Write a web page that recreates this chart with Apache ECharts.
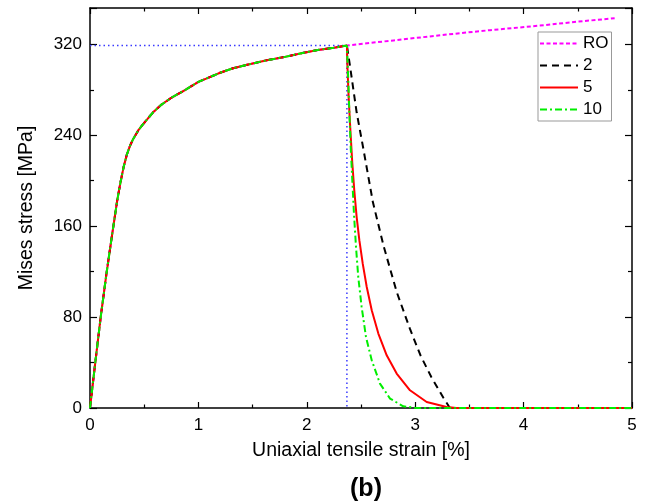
<!DOCTYPE html>
<html>
<head>
<meta charset="utf-8">
<script src="https://cdn.jsdelivr.net/npm/echarts@6/dist/echarts.min.js"></script>
<style>html,body{margin:0;padding:0;background:#fff;}#c{width:661px;height:502px;}</style>
</head>
<body>
<div id="c"></div>
<script>
// shared rising part (strain %, stress MPa)
const riseX = [0, 0.05, 0.10, 0.15, 0.20, 0.25, 0.28, 0.31, 0.34, 0.37, 0.40, 0.45, 0.50, 0.58, 0.66, 0.75, 0.88, 1.0, 1.1, 1.2, 1.32, 1.45, 1.63, 1.8, 1.94, 2.1, 2.25, 2.37];
const riseY = [0, 41, 81, 117, 150, 182, 198, 212, 223, 231, 237, 245, 251, 260, 267, 273, 280, 287, 291, 295, 299, 302, 306, 309, 312, 315, 317, 319];
// RO continuation
const roX = [2.8, 3.23, 3.69, 4.15, 4.5, 4.84];
const roY = [323.5, 328, 332.5, 336.5, 340, 343];
// softening branches
const d2X = [2.40, 2.46, 2.52, 2.61, 2.71, 2.83, 2.95, 3.05, 3.15, 3.26, 3.32, 5];
const d2Y = [300, 260, 229, 181, 142, 102, 70, 46, 27, 9, 0, 0];
const d5X = [2.374, 2.386, 2.402, 2.42, 2.438, 2.46, 2.485, 2.516, 2.553, 2.599, 2.66, 2.737, 2.829, 2.952, 3.106, 3.29, 3.38, 5];
const d5Y = [303, 273.6, 244.3, 215, 191.5, 168, 147.5, 127, 106.5, 86, 65.5, 46.4, 30.3, 15.6, 5.3, 0.9, 0, 0];
const d10X = [2.374, 2.383, 2.393, 2.405, 2.42, 2.435, 2.454, 2.475, 2.506, 2.546, 2.599, 2.675, 2.768, 2.89, 3.01, 5];
const d10Y = [308.8, 288, 259, 229.6, 200, 171, 141.6, 115, 88.9, 62.5, 42, 21.5, 8.3, 1.5, 0, 0];
// guide lines at the peak
const peakX = 2.37, peakY = 319;
const names = ['RO', '2', '5', '10'];
const colors = ['#ff00ff', '#000000', '#ff0000', '#00ee00'];
const xTicks = [0, 1, 2, 3, 4, 5];
const yTicks = [0, 80, 160, 240, 320];

function zip(xs, ys) { return xs.map((x, i) => [x, ys[i]]); }
const rise = zip(riseX, riseY);

const FONT = 'Liberation Sans, Arial, sans-serif';
const chart = echarts.init(document.getElementById('c'), null, {renderer: 'canvas'});

const baseX = {
  type: 'value', min: 0, max: 5, interval: 1,
  axisLine: {show: true, onZero: false, lineStyle: {color: '#000', width: 1.5}},
  axisTick: {show: true, inside: true, length: 6, lineStyle: {color: '#000', width: 1.2}},
  minorTick: {show: true, splitNumber: 2, length: 3.5, lineStyle: {color: '#000', width: 1.2}},
  splitLine: {show: false}
};
const baseY = {
  type: 'value', min: 0, max: 352, interval: 80,
  axisLine: {show: true, onZero: false, lineStyle: {color: '#000', width: 1.5}},
  axisTick: {show: true, inside: true, length: 7, lineStyle: {color: '#000', width: 1.2}},
  minorTick: {show: true, splitNumber: 2, length: 4, lineStyle: {color: '#000', width: 1.2}},
  splitLine: {show: false}
};

function lineSeries(i, data, type, z) {
  return {
    name: names[i], type: 'line', symbol: 'none', showSymbol: false, z: z,
    color: colors[i], itemStyle: {color: colors[i]},
    data: data,
    lineStyle: {color: colors[i], width: 2, type: type}
  };
}

chart.setOption({
  animation: false,
  backgroundColor: '#fff',
  color: colors,
  textStyle: {fontFamily: FONT},
  title: {text: '(b)', left: 361, top: 472, textAlign: 'center',
    textStyle: {fontSize: 25, fontWeight: 'bold', color: '#000', fontFamily: FONT}},
  grid: {left: 90, right: 29, top: 8, bottom: 94},
  legend: {
    data: names, orient: 'vertical', left: 538, top: 32,
    padding: [3, 3, 3, 1], itemGap: 5, itemWidth: 38, itemHeight: 16,
    itemStyle: {opacity: 0, borderWidth: 0},
    borderColor: '#999', borderWidth: 1, backgroundColor: '#fff',
    textStyle: {fontSize: 17, lineHeight: 16, color: '#000', fontFamily: FONT}
  },
  xAxis: [
    Object.assign({}, baseX, {
      position: 'bottom',
      name: 'Uniaxial tensile strain [%]', nameLocation: 'middle', nameGap: 33,
      nameTextStyle: {fontSize: 19.5, color: '#000', fontFamily: FONT},
      axisLabel: {show: true, margin: 9, fontSize: 17, color: '#000', fontFamily: FONT,
        formatter: v => (xTicks.indexOf(v) >= 0 ? String(v) : '')}
    }),
    Object.assign({}, baseX, {position: 'top', axisLabel: {show: false}})
  ],
  yAxis: [
    Object.assign({}, baseY, {
      position: 'left',
      name: 'Mises stress [MPa]', nameLocation: 'middle', nameGap: 53, nameRotate: 90,
      nameTextStyle: {fontSize: 19.5, color: '#000', fontFamily: FONT},
      axisLabel: {show: true, margin: 8, fontSize: 17, color: '#000', fontFamily: FONT, showMaxLabel: false,
        formatter: v => (yTicks.indexOf(v) >= 0 ? String(v) : '')}
    }),
    Object.assign({}, baseY, {position: 'right', axisLabel: {show: false}})
  ],
  series: [
    {
      name: 'guide', type: 'line', symbol: 'none', silent: true, z: 1,
      data: [[0, peakY], [peakX, peakY], [peakX, 0]],
      lineStyle: {color: '#3a3aff', width: 1.5, type: [1.5, 3]}
    },
    lineSeries(0, rise.concat(zip(roX, roY)), [4, 2.5], 2),
    lineSeries(1, rise.concat(zip(d2X, d2Y)), [7, 5], 3),
    lineSeries(2, rise.concat(zip(d5X, d5Y)), 'solid', 4),
    lineSeries(3, rise.concat(zip(d10X, d10Y)), [7, 3, 2, 3], 5)
  ]
});
</script>
</body>
</html>
